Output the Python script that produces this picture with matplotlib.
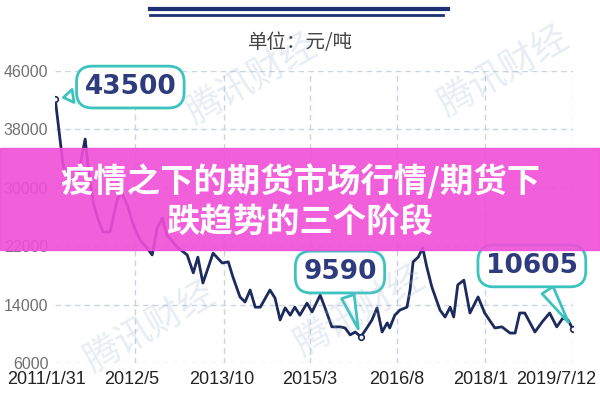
import matplotlib
matplotlib.use('Agg')
import matplotlib.pyplot as plt
from matplotlib import font_manager
from matplotlib.patches import Rectangle
from matplotlib.lines import Line2D
from matplotlib.transforms import ScaledTranslation

# fuentes
nombres = {f.name for f in font_manager.fontManager.ttflist}
fuente_estrecha = 'Liberation Sans Narrow' if 'Liberation Sans Narrow' in nombres else 'Liberation Sans'
plt.rcParams['font.family'] = ['Noto Sans CJK SC', 'DejaVu Sans']

# datos: meses desde 2011/1/31 y precio (元/吨)
meses = [0, 1.6, 3.0, 4.5, 5.9, 6.5, 7.5, 8.5, 9.4, 10.8, 12.2, 13.0, 14.2, 15.4,
         16.7, 18.1, 19.1, 20.1, 21.1, 22.0, 24.0, 26.0, 27.2, 28.1, 29.1, 31.1,
         32.9, 34.1, 35.0, 36.4, 37.4, 38.4, 39.4, 40.4, 42.3, 43.3, 44.3, 45.3,
         46.3, 47.2, 48.2, 49.6, 50.6, 52.2, 53.1, 54.5, 56.1, 57.1, 58.1, 59.1,
         60.2, 61.4, 62.4, 63.4, 64.4, 65.4, 65.9, 66.9, 67.9, 69.3, 69.9, 70.5,
         71.5, 72.4, 73.2, 74.2, 75.8, 76.8, 77.8, 78.5, 79.3, 80.5, 81.7, 83.3,
         84.6, 86.6, 88.0, 89.6, 90.6, 91.5, 92.5, 94.5, 95.9, 97.4, 98.8, 100.0,
         101.0, 102.0]
precio = [42200, 32850, 31070, 31600, 36680, 32850, 27900, 25600, 23950, 23950,
          28300, 29400, 27650, 24900, 22850, 21750, 20800, 24500, 25850, 23550,
          21900, 20800, 18350, 20500, 16950, 21050, 19700, 19850, 17800, 15050,
          14350, 16000, 13650, 13650, 16000, 14900, 11900, 13550, 12550, 13650,
          12550, 14200, 13000, 15300, 13650, 10950, 10950, 10800, 9850, 10250,
          9590, 10800, 11900, 13550, 10250, 11500, 10800, 12550, 13250, 13650,
          16000, 19850, 20500, 21750, 19150, 16400, 13250, 12300, 13650, 12300,
          16700, 17350, 12850, 15050, 12850, 10800, 10950, 10100, 10100, 12850,
          12850, 10250, 11600, 12850, 10950, 12150, 11900, 10605]

ticks_x = [0, 15.7, 33.3, 50.2, 67.3, 84.6, 102]
etiquetas_x = ['2011/1/31', '2012/5', '2013/10', '2015/3', '2016/8', '2018/1', '2019/7/12']
ticks_y = [6000, 14000, 22000, 30000, 38000, 46000]

# puntos destacados: indice, texto, posicion del globo
destacados = [(0, '43500', (14.8, 43800)),
              (50, '9590', (56.1, 18460)),
              (87, '10605', (93.9, 19300))]

azul = '#1c2a5e'
turquesa = '#3cc3c0'

fig = plt.figure(figsize=(6, 4), dpi=100)
ax = fig.add_axes([0.092, 0.0925, 0.863, 0.73])

ax.plot(meses, precio, color=azul, lw=2, zorder=3)
for i, _, _ in destacados:
    ax.plot(meses[i], precio[i], 'o', ms=4, mfc='white', mec=azul, mew=1.2, zorder=4)

ax.set_xlim(0, 102)
ax.set_ylim(6000, 46000)
ax.set_yticks(ticks_y)
ax.set_yticklabels([str(v) for v in ticks_y], family=fuente_estrecha, fontsize=11.5, color='#707070')
ax.set_xticks(ticks_x)
ax.set_xticklabels(etiquetas_x, family=fuente_estrecha, fontsize=13, color='#222222')
ax.tick_params(length=0, axis='y', pad=5)
ax.tick_params(length=0, axis='x', pad=6)
# desplazar etiquetas extremas como en el original
desplazamientos = [-6, -2, -2, 0, 0, -3, -12]
for lbl, dx in zip(ax.get_xticklabels(), desplazamientos):
    lbl.set_transform(lbl.get_transform() + ScaledTranslation(dx / 72, 0, fig.dpi_scale_trans))
for s in ax.spines.values():
    s.set_visible(False)
for v in ticks_y:
    ax.axhline(v, color='#c9d3e2', lw=1, ls=(0, (4, 3)), zorder=1)
for v in ticks_x[1:]:
    ax.axvline(v, color='#c9d3e2', lw=1, ls=(0, (4, 3)), zorder=1)

# globos con el valor
for i, texto, pos in destacados:
    ax.annotate(texto, xy=(meses[i], precio[i]), xytext=pos,
                ha='center', va='center', fontsize=19, fontweight='bold',
                family=['DejaVu Sans'], color='#2e3b7c', zorder=5,
                annotation_clip=False,
                bbox=dict(boxstyle='round,pad=0.3,rounding_size=0.6', fc='white',
                          ec=turquesa, lw=2),
                arrowprops=dict(arrowstyle='wedge,tail_width=0.5',
                                fc='white', ec=turquesa, lw=2, shrinkB=6))

# marcas de agua
for (x, y) in [(0.42, 0.8), (0.84, 0.82), (0.25, 0.18), (0.6, 0.22)]:
    fig.text(x, y, '腾讯财经', fontsize=26, color='#9fb8d0', alpha=0.25,
             rotation=30, ha='center', va='center')

# encabezado
fig.add_artist(Line2D([0.25, 0.747], [0.978, 0.978], color='#1e3273', lw=3))
fig.add_artist(Line2D([0.25, 0.738], [0.963, 0.963], color='#1e3273', lw=2))
fig.text(0.5, 0.893, '单位：元/吨', fontsize=14, color='#444444', ha='center', va='center')

# banda
fig.add_artist(Rectangle((0, 0.375), 1, 0.255, transform=fig.transFigure,
                         color='#f04ed8', alpha=0.9, zorder=10))
fig.text(0.5, 0.545, '疫情之下的期货市场行情/期货下', fontsize=24, fontweight='bold',
         color='white', ha='center', va='center', zorder=11)
fig.text(0.5, 0.445, '跌趋势的三个阶段', fontsize=24, fontweight='bold',
         color='white', ha='center', va='center', zorder=11)

fig.savefig('out.png', dpi=100)
